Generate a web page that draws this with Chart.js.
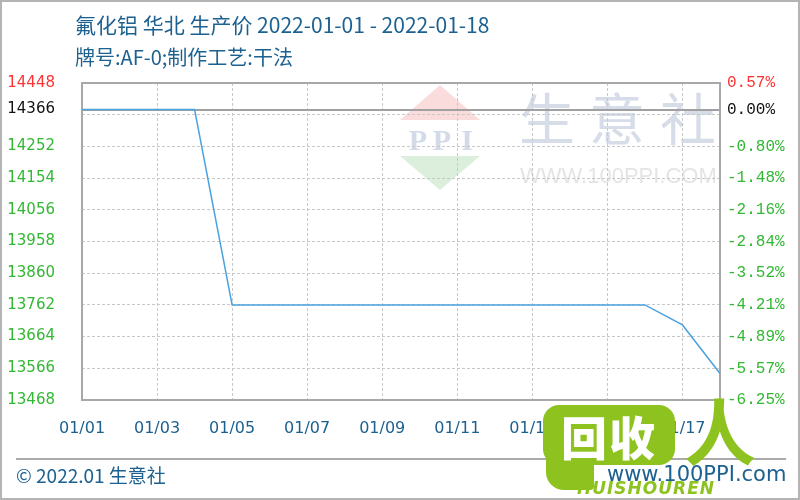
<!DOCTYPE html>
<html>
<head>
<meta charset="utf-8">
<script src="https://cdn.jsdelivr.net/npm/chart.js@4.4.1/dist/chart.umd.min.js"></script>
<style>
html, body { margin: 0; padding: 0; background: #fff; }
#wrap { position: relative; width: 800px; height: 500px; overflow: hidden; font-family: "Noto Sans CJK SC", "Noto Sans", sans-serif; }
#c { position: absolute; left: 0; top: 0; }
.frame { position: absolute; left: 0; top: 0; width: 800px; height: 500px; box-sizing: border-box; border: 2px solid #b4b4b4; pointer-events: none; }
.title { position: absolute; left: 75px; top: 9px; font-size: 21px; color: #1d6191; white-space: nowrap; line-height: 30px; }
.subtitle { position: absolute; left: 75px; top: 43px; font-size: 20px; color: #1d6191; white-space: nowrap; line-height: 28px; }
.foot-line { position: absolute; left: 16px; top: 458px; width: 770px; height: 0; border-top: 2px solid #aaaaaa; }
.foot-left { position: absolute; left: 16px; top: 461px; font-size: 19px; color: #1d6191; line-height: 28px; white-space: nowrap; }
.foot-right { position: absolute; left: 607px; top: 460px; font-family: "DejaVu Sans", sans-serif; font-size: 21px; color: #1d6191; line-height: 28px; white-space: nowrap; }
.bubble { position: absolute; left: 543px; top: 405px; width: 132px; height: 60px; background: #8dc21f; border-radius: 16px; color: #fff; font-weight: 900; font-size: 46px; line-height: 60px; text-align: center; letter-spacing: 2px; }
.tail { position: absolute; left: 546px; top: 440px; width: 48px; height: 50px; background: #8dc21f; border-radius: 4px 4px 4px 18px; }
.ren { position: absolute; left: 684px; top: 388px; font-size: 72px; font-weight: 700; color: #8dc21f; line-height: 80px; }
.brand { position: absolute; left: 577px; top: 478px; font-family: "DejaVu Sans", sans-serif; font-style: italic; font-weight: 900; font-size: 17px; color: #8dc21f; letter-spacing: 1px; line-height: 20px; }
</style>
</head>
<body>
<div id="wrap">
  <canvas id="c" width="800" height="500"></canvas>
  <div class="title">氟化铝 华北 生产价 2022-01-01 - 2022-01-18</div>
  <div class="subtitle">牌号:AF-0;制作工艺:干法</div>
  <div class="foot-line"></div>
  <div class="foot-left">© 2022.01 生意社</div>
  <div class="foot-right">www.100PPI.com</div>
  <div class="tail"></div>
  <div class="bubble">回收</div>
  <div class="ren">人</div>
  <div class="brand">HUISHOUREN</div>
  <div class="frame"></div>
</div>
<script>
// dates and prices
var dates = ['01/01', '01/02', '01/03', '01/04', '01/05', '01/06', '01/07', '01/08', '01/09',
             '01/10', '01/11', '01/12', '01/13', '01/14', '01/15', '01/16', '01/17', '01/18'];
var prices = [14366, 14366, 14366, 14366, 13762, 13762, 13762, 13762, 13762,
              13762, 13762, 13762, 13762, 13762, 13762, 13762, 13700, 13550];
var basePrice = 14366;
// left tick labels and the even grid behind them
var leftTicks = [14448, 14366, 14252, 14154, 14056, 13958, 13860, 13762, 13664, 13566, 13468];
var gridTicks = [14448, 14350, 14252, 14154, 14056, 13958, 13860, 13762, 13664, 13566, 13468];
var rightLabels = ['0.57%', '0.00%', '-0.80%', '-1.48%', '-2.16%', '-2.84%', '-3.52%', '-4.21%', '-4.89%', '-5.57%', '-6.25%'];

var allTicks = gridTicks.concat([basePrice]).sort(function (a, b) { return a - b; });

function tickColor(v) {
    if (v === leftTicks[0]) return '#ff3333';
    if (v === basePrice) return '#111111';
    return '#33b833';
}

var setTicks = function (scale) {
    scale.ticks = allTicks.map(function (v) { return { value: v }; });
};

// watermark behind the grid
var watermark = {
    id: 'watermark',
    beforeDraw: function (chart) {
        var ctx = chart.ctx;
        var a = chart.chartArea;
        var x = a.left, y = a.top;
        ctx.save();
        ctx.fillStyle = '#fadcdc';
        ctx.beginPath();
        ctx.moveTo(x + 358, y + 2);
        ctx.lineTo(x + 318, y + 37);
        ctx.lineTo(x + 398, y + 37);
        ctx.closePath();
        ctx.fill();
        ctx.fillStyle = '#dcefdc';
        ctx.beginPath();
        ctx.moveTo(x + 318, y + 73);
        ctx.lineTo(x + 398, y + 73);
        ctx.lineTo(x + 358, y + 107);
        ctx.closePath();
        ctx.fill();
        ctx.fillStyle = '#d3dbe8';
        ctx.font = 'bold 30px "Liberation Serif"';
        ctx.textAlign = 'center';
        ctx.textBaseline = 'alphabetic';
        ctx.fillText('P', x + 336, y + 67);
        ctx.fillText('P', x + 360, y + 67);
        ctx.fillText('I', x + 385, y + 67);
        ctx.fillStyle = '#d6dde9';
        ctx.font = '56px "Noto Sans CJK SC"';
        ctx.textBaseline = 'middle';
        ctx.fillText('生', x + 465, y + 36);
        ctx.fillText('意', x + 535, y + 36);
        ctx.fillText('社', x + 606, y + 36);
        ctx.fillStyle = '#e4e4e4';
        ctx.font = '22px "Liberation Sans"';
        ctx.textAlign = 'left';
        ctx.textBaseline = 'alphabetic';
        ctx.fillText('WWW.100PPI.COM', x + 438, y + 100);
        ctx.restore();
    }
};

// plot frame
var frame = {
    id: 'frame',
    beforeDatasetsDraw: function (chart) {
        var ctx = chart.ctx;
        var a = chart.chartArea;
        ctx.save();
        ctx.strokeStyle = '#a8a8a8';
        ctx.lineWidth = 2;
        ctx.strokeRect(a.left, a.top, a.right - a.left, a.bottom - a.top);
        ctx.restore();
    }
};

var priceChart = new Chart(document.getElementById('c'), {
    type: 'line',
    data: {
        labels: dates,
        datasets: [{
            data: prices,
            borderColor: '#4aa3df',
            borderWidth: 1.5,
            pointRadius: 0,
            tension: 0,
            fill: false
        }]
    },
    options: {
        responsive: false,
        animation: false,
        devicePixelRatio: 1,
        layout: { padding: { top: 83, left: 0, right: 0, bottom: 0 } },
        plugins: { legend: { display: false }, tooltip: { enabled: false } },
        scales: {
            x: {
                type: 'category',
                offset: false,
                afterFit: function (scale) { scale.height = 100; },
                grid: {
                    drawTicks: false,
                    color: function (ctx) { return ctx.index % 2 === 0 ? '#c8c8c8' : 'rgba(0,0,0,0)'; },
                    lineWidth: 1
                },
                border: { display: false, dash: [3, 2] },
                ticks: {
                    autoSkip: false,
                    maxRotation: 0,
                    padding: 19,
                    color: '#1d6191',
                    font: { family: '"DejaVu Sans"', size: 16 },
                    callback: function (v, i) { return i % 2 === 0 ? dates[i] : ''; }
                }
            },
            y: {
                position: 'left',
                min: leftTicks[leftTicks.length - 1],
                max: leftTicks[0],
                afterBuildTicks: setTicks,
                afterFit: function (scale) { scale.width = 82; },
                grid: {
                    drawTicks: false,
                    color: function (ctx) { return ctx.tick && ctx.tick.value === basePrice ? '#a0a0a0' : '#c8c8c8'; },
                    lineWidth: function (ctx) { return ctx.tick && ctx.tick.value === basePrice ? 2 : 1; }
                },
                border: {
                    display: false,
                    dash: function (ctx) { return ctx.tick && ctx.tick.value === basePrice ? [] : [3, 2]; }
                },
                ticks: {
                    padding: 27,
                    font: { family: '"DejaVu Sans"', size: 15 },
                    color: function (ctx) { return tickColor(ctx.tick.value); },
                    callback: function (v) { return leftTicks.indexOf(v) >= 0 ? String(v) : ''; }
                }
            },
            y1: {
                position: 'right',
                min: leftTicks[leftTicks.length - 1],
                max: leftTicks[0],
                afterBuildTicks: setTicks,
                afterFit: function (scale) { scale.width = 80; },
                grid: { display: false, drawTicks: false },
                border: { display: false },
                ticks: {
                    padding: 7,
                    font: { family: '"Liberation Mono"', size: 16 },
                    color: function (ctx) { return tickColor(ctx.tick.value); },
                    callback: function (v) {
                        var i = leftTicks.indexOf(v);
                        return i >= 0 ? rightLabels[i] : '';
                    }
                }
            }
        }
    },
    plugins: [watermark, frame]
});
</script>
</body>
</html>
